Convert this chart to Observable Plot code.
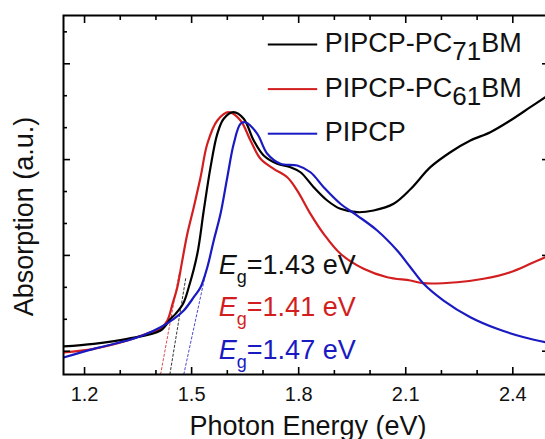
<!DOCTYPE html>
<html>
<head>
<meta charset="utf-8">
<script src="https://cdn.jsdelivr.net/npm/d3@7"></script>
<script src="https://cdn.jsdelivr.net/npm/@observablehq/plot@0.6"></script>
<style>
  html, body { margin: 0; padding: 0; background: #fff; overflow: hidden; }
  #chart svg { max-width: none; display: block; }
</style>
</head>
<body>
<div id="chart"></div>
<script>
// ---- data ----
const seriesNames  = ["PIPCP-PC71BM", "PIPCP-PC61BM", "PIPCP"];
const seriesColors = ["#000000", "#d21e1e", "#1a1ac2"];

const energyPC71 = [1.141,1.226,1.320,1.413,1.441,1.455,1.476,1.492,1.516,1.534,1.553,1.572,1.590,1.617,1.646,1.674,1.702,1.740,1.777,1.805,1.842,1.880,1.917,1.964,2.010,2.066,2.113,2.169,2.225,2.281,2.337,2.393,2.449,2.491];
const absPC71    = [0.050,0.077,0.129,0.216,0.338,0.390,0.495,0.668,1.017,1.469,1.921,2.269,2.426,2.495,2.426,2.199,2.043,1.956,1.921,1.868,1.712,1.573,1.486,1.451,1.469,1.539,1.690,1.921,2.077,2.199,2.286,2.408,2.547,2.651];

const energyPC61 = [1.141,1.226,1.320,1.385,1.413,1.432,1.447,1.460,1.473,1.488,1.506,1.525,1.544,1.572,1.604,1.637,1.665,1.693,1.730,1.768,1.796,1.833,1.870,1.917,1.982,2.048,2.113,2.150,2.244,2.318,2.393,2.449,2.491];
const absPC61    = [-0.012,0.025,0.112,0.198,0.234,0.320,0.500,0.668,0.930,1.225,1.503,1.816,2.165,2.408,2.495,2.408,2.199,2.008,1.904,1.816,1.677,1.434,1.225,1.017,0.860,0.772,0.738,0.710,0.720,0.756,0.825,0.912,0.981];

const energyPIPCP = [1.141,1.226,1.320,1.366,1.413,1.450,1.478,1.506,1.525,1.544,1.562,1.581,1.600,1.618,1.637,1.651,1.684,1.712,1.749,1.796,1.833,1.870,1.917,1.964,2.020,2.076,2.113,2.150,2.206,2.281,2.356,2.431,2.491];
const absPIPCP    = [-0.066,0.025,0.112,0.170,0.251,0.338,0.425,0.564,0.668,0.877,1.156,1.434,1.816,2.165,2.374,2.390,2.269,2.061,1.956,1.938,1.868,1.712,1.539,1.416,1.260,1.051,0.877,0.704,0.529,0.355,0.234,0.146,0.094];

// band-gap tangent lines (same order as seriesNames)
const tangentX1 = [1.439, 1.413, 1.478];
const tangentY1 = [-0.243, -0.243, -0.243];
const tangentX2 = [1.484, 1.465, 1.541];
const tangentY2 = [0.773, 0.808, 0.843];
const gapValues = ["1.43", "1.41", "1.47"];

const xMajorTicks = [1.2, 1.5, 1.8, 2.1, 2.4];
const xMinorTicks = [1.3, 1.4, 1.6, 1.7, 1.9, 2.0, 2.2, 2.3, 2.5];
const yMajorTicks = [0, 1, 2, 3];
const yMinorTicks = [1/3, 2/3, 4/3, 5/3, 7/3, 8/3, 10/3];

const xTitle = "Photon Energy (eV)";
const yTitle = "Absorption (a.u.)";

// ---- build tables ----
const energies = [energyPC71, energyPC61, energyPIPCP];
const absorb   = [absPC71, absPC61, absPIPCP];
const curves = seriesNames.map((name, s) =>
  energies[s].map((E, i) => ({series: name, E, A: absorb[s][i]})));
const tangents = seriesNames.map((name, s) => ({
  series: name, x1: tangentX1[s], y1: tangentY1[s], x2: tangentX2[s], y2: tangentY2[s], color: seriesColors[s]
}));

const FONT = "'Liberation Sans', Arial, Helvetica, sans-serif";
const marks = [];

// tangent lines
marks.push(Plot.link(tangents, {x1: "x1", y1: "y1", x2: "x2", y2: "y2", stroke: "color",
  strokeWidth: 0.8, strokeDasharray: "3,1.5", clip: true}));

// curves (red, black, blue drawing order)
[1, 0, 2].forEach(s => {
  marks.push(Plot.line(curves[s], {x: "E", y: "A", stroke: seriesColors[s], strokeWidth: 2.2,
    curve: "catmull-rom", clip: true}));
});

// inward ticks
const tk = {fill: "none", label: null, strokeWidth: 1.6};
marks.push(
  Plot.axisX(xMajorTicks, {...tk, anchor: "bottom", tickSize: 7, dy: -7}),
  Plot.axisX(xMinorTicks, {...tk, anchor: "bottom", tickSize: 4, dy: -4}),
  Plot.axisX(xMajorTicks, {...tk, anchor: "top", tickSize: 7, dy: 7}),
  Plot.axisX(xMinorTicks, {...tk, anchor: "top", tickSize: 4, dy: 4}),
  Plot.axisY(yMajorTicks, {...tk, anchor: "left", tickSize: 7, dx: 7}),
  Plot.axisY(yMinorTicks, {...tk, anchor: "left", tickSize: 4, dx: 4}),
  Plot.axisY(yMajorTicks, {...tk, anchor: "right", tickSize: 7, dx: -7}),
  Plot.axisY(yMinorTicks, {...tk, anchor: "right", tickSize: 4, dx: -4}),
  Plot.axisX(xMajorTicks, {anchor: "bottom", tickSize: 0, tickPadding: 12.5, fontSize: 20,
    tickFormat: d3.format(".1f"), label: null, fill: "#111"})
);

marks.push(Plot.frame({strokeWidth: 2, stroke: "#000"}));

// axis titles
marks.push(Plot.text([xTitle], {text: d => d, frameAnchor: "bottom", lineAnchor: "bottom",
  textAnchor: "middle", dx: 2, dy: 60, fontSize: 27, fill: "#111"}));
marks.push(Plot.text([yTitle], {text: d => d, frameAnchor: "left", lineAnchor: "bottom",
  textAnchor: "middle", rotate: -90, dx: -30.5, dy: 21.5, fontSize: 27, fill: "#111"}));

// legend
const legendOrder = [0, 1, 2];
legendOrder.forEach((s, i) => {
  marks.push(Plot.frame({fill: seriesColors[s], stroke: "none",
    insetLeft: 204.3, insetRight: 231.3, insetTop: 28 + 44.6 * i, insetBottom: 329 - 44.6 * i}));
  marks.push(Plot.text([seriesNames[s]], {text: d => d, frameAnchor: "top-left", lineAnchor: "bottom",
    textAnchor: "start", dx: 261.3, dy: 36.7 + 44.5 * i, fontSize: 27, fill: "#111"}));
});

// band-gap labels
const gapDy = [258.3, 300, 343.3];
[0, 1, 2].forEach((s, i) => {
  marks.push(Plot.text([gapValues[s]], {text: d => `Eg=${d} eV`, frameAnchor: "top-left",
    lineAnchor: "bottom", textAnchor: "start", dx: 155.3, dy: gapDy[i], fontSize: 27,
    fill: s === 0 ? "#111" : seriesColors[s]}));
});

const svg = Plot.plot({
  width: 548,
  height: 439,
  marginLeft: 63,
  marginRight: 0,
  marginTop: 15,
  marginBottom: 65,
  x: {domain: [1.141, 2.5]},
  y: {domain: [-0.243, 3.504]},
  style: {fontFamily: FONT, color: "#000", background: "#fff", overflow: "visible"},
  marks
});
svg.style.maxWidth = "none";

// subscripts
const NS = "http://www.w3.org/2000/svg";
function tspan(txt, attrs) {
  const t = document.createElementNS(NS, "tspan");
  for (const k in attrs) t.setAttribute(k, attrs[k]);
  t.textContent = txt;
  return t;
}
svg.querySelectorAll("text").forEach(el => {
  const txt = el.textContent;
  let m = txt.match(/^(PIPCP-PC)(\d+)(BM)$/);
  if (m) {
    el.textContent = "";
    el.appendChild(tspan(m[1], {}));
    el.appendChild(tspan(m[2], {dy: 8, "font-size": 26}));
    el.appendChild(tspan(m[3], {dy: -8}));
    return;
  }
  m = txt.match(/^Eg(=.*)$/);
  if (m) {
    el.textContent = "";
    el.appendChild(tspan("E", {"font-style": "italic"}));
    el.appendChild(tspan("g", {dy: 9.5, "font-size": 18}));
    el.appendChild(tspan(m[1], {dy: -9.5}));
  }
});

document.getElementById("chart").appendChild(svg);
</script>
</body>
</html>
